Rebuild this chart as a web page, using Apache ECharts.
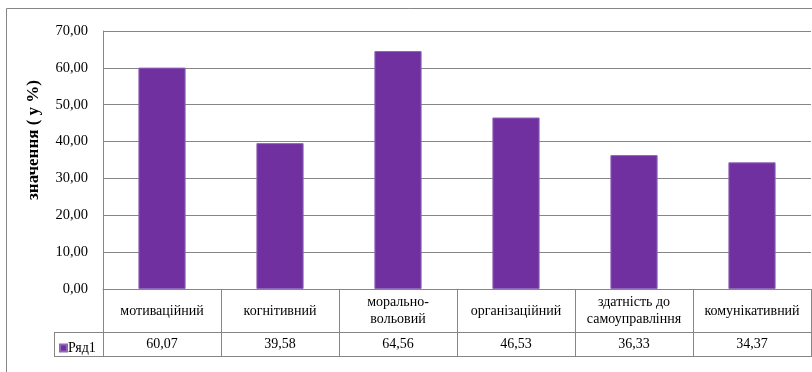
<!DOCTYPE html>
<html>
<head>
<meta charset="utf-8">
<title>значення</title>
<script src="https://cdn.jsdelivr.net/npm/echarts@6/dist/echarts.min.js"></script>
</head>
<body style="margin:0;background:#fff">
<div id="chart" style="width:812px;height:372px"></div>
<script>
var categories = ['мотиваційний', 'когнітивний', 'морально-\nвольовий', 'організаційний', 'здатність до\nсамоуправління', 'комунікативний'];
var values = [60.07, 39.58, 64.56, 46.53, 36.33, 34.37];
var seriesName = 'Ряд1';
var yTicks = { min: 0, max: 70, step: 10 };

function fmt(v) { return v.toFixed(2).replace('.', ','); }

var lineColor = '#868686';
var font = 'Liberation Serif';

var chart = echarts.init(document.getElementById('chart'));
chart.setOption({
    animation: false,
    textStyle: { fontFamily: font },
    grid: { left: 103, top: 31, right: 1, bottom: 83 },
    legend: {
        data: [seriesName],
        left: 54, top: 336,
        icon: 'rect', itemWidth: 7, itemHeight: 7, itemGap: 0,
        textStyle: { fontFamily: font, fontSize: 14, color: '#000', padding: [0, 0, 0, -4] }
    },
    xAxis: [
        {
            type: 'category',
            data: categories,
            axisLine: { show: true, lineStyle: { color: lineColor } },
            axisTick: { show: true, interval: 0, length: 43, lineStyle: { color: lineColor } },
            axisLabel: {
                interval: 0, margin: 22, verticalAlign: 'middle',
                fontFamily: font, fontSize: 14, color: '#000', lineHeight: 17
            }
        },
        {
            type: 'category',
            position: 'bottom',
            offset: 43,
            data: values.map(fmt),
            axisLine: { show: true, lineStyle: { color: lineColor } },
            axisTick: { show: true, interval: 0, length: 24, lineStyle: { color: lineColor } },
            axisLabel: {
                interval: 0, margin: 12, verticalAlign: 'middle',
                fontFamily: font, fontSize: 14, color: '#000'
            }
        }
    ],
    yAxis: {
        type: 'value',
        min: yTicks.min, max: yTicks.max, interval: yTicks.step,
        axisLine: { show: true, lineStyle: { color: lineColor } },
        axisTick: { show: false },
        splitLine: { lineStyle: { color: lineColor } },
        axisLabel: { margin: 15, fontFamily: font, fontSize: 14.5, color: '#000', formatter: fmt }
    },
    series: [{
        name: seriesName,
        type: 'bar',
        data: values,
        barWidth: '40%',
        itemStyle: { color: '#7030A0', borderColor: '#9066b8', borderWidth: 1 }
    }],
    graphic: [
        { type: 'rect', shape: { x: 6.5, y: 8.5, width: 900, height: 500 },
          style: { fill: null, stroke: lineColor, lineWidth: 1 }, z: -1 },
        { type: 'line', shape: { x1: 54, y1: 356.5, x2: 812, y2: 356.5 }, style: { stroke: lineColor } },
        { type: 'line', shape: { x1: 54, y1: 332.5, x2: 103, y2: 332.5 }, style: { stroke: lineColor } },
        { type: 'line', shape: { x1: 54.5, y1: 332, x2: 54.5, y2: 357 }, style: { stroke: lineColor } },
        { type: 'text', x: 34, y: 140, rotation: Math.PI / 2,
          style: { text: 'значення ( у %)', font: 'bold 17px "Liberation Serif"', fill: '#000',
                   textAlign: 'center', textVerticalAlign: 'middle' } }
    ]
});
</script>
</body>
</html>
